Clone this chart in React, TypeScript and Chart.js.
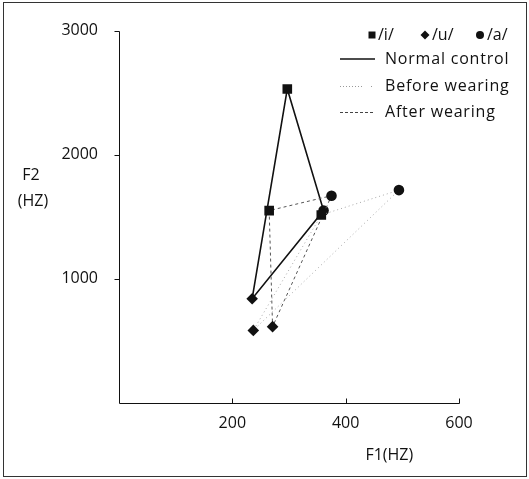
import React, { useEffect, useRef } from 'react';
import { Chart, registerables } from 'chart.js';

Chart.register(...registerables);

const vowels = ['/i/', '/u/', '/a/'];
const markerStyles = ['rect', 'rectRot', 'circle'];
const groups = ['Normal control', 'Before wearing', 'After wearing'];
const normalF1 = [297, 235, 361];
const normalF2 = [2530, 840, 1550];
const beforeF1 = [357, 237, 494];
const beforeF2 = [1515, 585, 1715];
const afterF1 = [265, 271, 375];
const afterF2 = [1550, 615, 1670];
const xTicks = [200, 400, 600];
const yTicks = [1000, 2000, 3000];
const xTitle = 'F1(HZ)';
const yTitle = ['F2', '(HZ)'];

const FONT = "'Open Sans', 'DejaVu Sans', sans-serif";

function triangle(f1: number[], f2: number[]) {
  const pts = f1.map((x, i) => ({ x, y: f2[i] }));
  return [...pts, pts[0]];
}

const radii = [6.8, 5.8, 5.3, 0];
const styles = [...markerStyles, markerStyles[0]];

const decor = {
  id: 'decor',
  afterDraw(chart: any) {
    const ctx = chart.ctx as CanvasRenderingContext2D;
    const xs = chart.scales.x;
    const ys = chart.scales.y;
    const r = (v: number) => Math.round(v) + 0.5;
    const line = (a: number, b: number, c: number, d: number) => {
      ctx.beginPath();
      ctx.moveTo(a, b);
      ctx.lineTo(c, d);
      ctx.stroke();
    };
    ctx.save();
    ctx.strokeStyle = '#333';
    ctx.lineWidth = 1;
    ctx.strokeRect(3.5, 2.5, 523, 474);

    ctx.strokeStyle = '#111';
    const x0 = r(xs.getPixelForValue(0));
    const x1 = r(xs.getPixelForValue(600));
    const y0 = r(ys.getPixelForValue(0));
    const y1 = r(ys.getPixelForValue(3000));
    ctx.beginPath();
    ctx.moveTo(x0, y1);
    ctx.lineTo(x0, y0);
    ctx.lineTo(x1, y0);
    ctx.stroke();
    yTicks.forEach((v) => {
      const p = r(ys.getPixelForValue(v));
      line(x0 - 5, p, x0, p);
    });
    xTicks.forEach((v) => {
      const p = r(xs.getPixelForValue(v));
      line(p, y0, p, y0 - 5);
    });

    // titles
    ctx.fillStyle = '#111';
    ctx.font = `16px ${FONT}`;
    ctx.textAlign = 'center';
    ctx.textBaseline = 'middle';
    ctx.fillText(yTitle[0], 31, 175);
    ctx.fillText(yTitle[1], 33, 201);
    ctx.fillText(xTitle, (xs.getPixelForValue(400) + xs.getPixelForValue(600)) / 2 - 13, 455);

    // legend: markers row
    ctx.textAlign = 'left';
    const mx = [372, 425, 480];
    const tx = [378, 432, 487];
    mx.forEach((x, i) => {
      ctx.fillStyle = '#111';
      ctx.beginPath();
      if (i === 0) {
        ctx.rect(x - 3.5, 35 - 3.5, 7, 7);
      } else if (i === 1) {
        ctx.moveTo(x, 35 - 4.5);
        ctx.lineTo(x + 4.5, 35);
        ctx.lineTo(x, 35 + 4.5);
        ctx.lineTo(x - 4.5, 35);
        ctx.closePath();
      } else {
        ctx.arc(x, 35, 4, 0, Math.PI * 2);
      }
      ctx.fill();
      ctx.fillText(vowels[i], tx[i], 35);
    });

    (ctx as any).letterSpacing = '0.8px';
    const rows = [59, 86, 112];
    rows.forEach((y, i) => {
      ctx.save();
      if (i === 0) {
        ctx.strokeStyle = '#111';
        ctx.lineWidth = 1.5;
        ctx.setLineDash([]);
        line(340, y, 375, y);
      } else if (i === 1) {
        ctx.strokeStyle = '#999';
        ctx.lineWidth = 1;
        ctx.setLineDash([1, 2]);
        line(340, y + 0.5, 363, y + 0.5);
        line(371, y + 0.5, 373, y + 0.5);
      } else {
        ctx.strokeStyle = '#444';
        ctx.lineWidth = 1;
        ctx.setLineDash([3, 2]);
        line(340, y + 0.5, 374, y + 0.5);
      }
      ctx.restore();
      ctx.fillStyle = '#111';
      ctx.fillText(groups[i], 385, y);
    });
    ctx.restore();
  },
};

export default function App() {
  const ref = useRef<HTMLCanvasElement>(null);
  useEffect(() => {
    if (!ref.current) return;
    const chart = new Chart(ref.current, {
      type: 'scatter',
      data: {
        datasets: [
          {
            label: groups[1],
            data: triangle(beforeF1, beforeF2),
            showLine: true,
            borderColor: '#a8a8a8',
            borderWidth: 1,
            borderDash: [1, 3],
            pointStyle: styles as any,
            pointRadius: radii,
            pointBackgroundColor: '#111',
            pointBorderColor: '#111',
            pointBorderWidth: 0,
          },
          {
            label: groups[2],
            data: triangle(afterF1, afterF2),
            showLine: true,
            borderColor: '#555',
            borderWidth: 1,
            borderDash: [3, 3],
            pointStyle: styles as any,
            pointRadius: radii,
            pointBackgroundColor: '#111',
            pointBorderColor: '#111',
            pointBorderWidth: 0,
          },
          {
            label: groups[0],
            data: triangle(normalF1, normalF2),
            showLine: true,
            borderColor: '#111',
            borderWidth: 1.6,
            pointStyle: styles as any,
            pointRadius: radii,
            pointBackgroundColor: '#111',
            pointBorderColor: '#111',
            pointBorderWidth: 0,
          },
        ],
      },
      options: {
        responsive: false,
        animation: false,
        events: [],
        layout: { padding: { left: 0, top: 27, right: 70, bottom: 26 } },
        plugins: { legend: { display: false }, tooltip: { enabled: false } },
        scales: {
          x: {
            type: 'linear',
            position: 'bottom',
            min: 0,
            max: 600,
            grid: { display: false, drawTicks: false },
            border: { display: false },
            ticks: {
              stepSize: 200,
              autoSkip: false,
              padding: 11,
              color: '#111',
              font: { family: FONT, size: 16 },
              callback: (v: any) => (v === 0 ? '' : String(v)),
            },
            afterFit: (s: any) => {
              s.height = 50;
            },
          },
          y: {
            type: 'linear',
            min: 0,
            max: 3000,
            grid: { display: false, drawTicks: false },
            border: { display: false },
            ticks: {
              stepSize: 1000,
              autoSkip: false,
              padding: 21,
              color: '#111',
              font: { family: FONT, size: 16 },
              callback: (v: any) => (v === 0 ? '' : String(v)),
            },
            afterFit: (s: any) => {
              s.width = 119;
            },
          },
        },
      },
      plugins: [decor],
    });
    return () => chart.destroy();
  }, []);
  return (
    <div style={{ position: 'absolute', left: 0, top: 0, width: 529, height: 479, background: '#fff' }}>
      <canvas ref={ref} width={529} height={479} />
    </div>
  );
}
